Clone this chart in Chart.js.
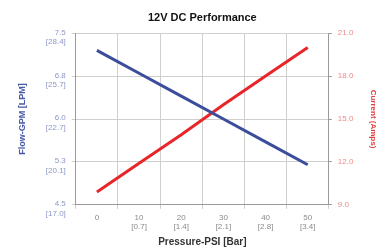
<!DOCTYPE html>
<html>
<head>
<meta charset="utf-8">
<script src="https://cdn.jsdelivr.net/npm/chart.js@4/dist/chart.umd.min.js"></script>
<style>
  html, body { margin: 0; padding: 0; background: #fff; }
  #wrap { width: 379px; height: 248px; }
</style>
</head>
<body>
<div id="wrap"><canvas id="perfChart"></canvas></div>
<script>
// pressure categories (PSI with bar below)
const pressureLabels = [["0"], ["10", "[0.7]"], ["20", "[1.4]"], ["30", "[2.1]"], ["40", "[2.8]"], ["50", "[3.4]"]];

// readings
const flowGPM = [7.2, 6.8, 6.4, 6.0, 5.6, 5.2];
const currentAmps = [9.9, 11.9, 13.9, 16.0, 18.0, 20.0];

// left axis tick text
const flowTicks = [4.5, 5.25, 6.0, 6.75, 7.5];
const flowTickText = [["4.5", "[17.0]"], ["5.3", "[20.1]"], ["6.0", "[22.7]"], ["6.8", "[25.7]"], ["7.5", "[28.4]"]];

const ctx = document.getElementById("perfChart").getContext("2d");

new Chart(ctx, {
    type: "line",
    data: {
        labels: pressureLabels,
        datasets: [
            {
                label: "Flow",
                data: flowGPM,
                yAxisID: "y",
                borderColor: "#3b4d9b",
                borderWidth: 3,
                pointRadius: 0,
                tension: 0
            },
            {
                label: "Current",
                data: currentAmps,
                yAxisID: "y1",
                borderColor: "#e8262a",
                borderWidth: 3,
                pointRadius: 0,
                tension: 0
            }
        ]
    },
    options: {
        responsive: true,
        maintainAspectRatio: false,
        animation: false,
        layout: { padding: { left: 17, right: 0, top: 0, bottom: 0 } },
        plugins: {
            legend: { display: false },
            tooltip: { enabled: false },
            title: {
                display: true,
                text: "12V DC Performance",
                fullSize: false,
                color: "#111",
                font: { family: "Liberation Sans", size: 11, weight: "bold" },
                padding: { top: 11, bottom: 9 }
            }
        },
        scales: {
            x: {
                offset: true,
                grid: { offset: true, color: "#cfcfcf", tickLength: 4 },
                border: { color: "#9a9a9a" },
                ticks: {
                    color: "#8a8a8a",
                    font: { family: "Liberation Sans", size: 8 },
                    maxRotation: 0,
                    padding: 4
                },
                title: {
                    display: true,
                    text: "Pressure-PSI [Bar]",
                    color: "#333",
                    font: { family: "Liberation Sans", size: 10, weight: "bold" },
                    padding: { top: 0, bottom: 0 }
                }
            },
            y: {
                position: "left",
                min: 4.5,
                max: 7.5,
                afterBuildTicks: axis => { axis.ticks = flowTicks.map(v => ({ value: v })); },
                grid: { color: "#cfcfcf", tickLength: 4 },
                border: { color: "#9a9a9a" },
                ticks: {
                    color: "#8e98c8",
                    font: { family: "Liberation Sans", size: 8 },
                    padding: 6,
                    labelOffset: 4,
                    callback: (v, i) => flowTickText[i]
                },
                title: {
                    display: true,
                    text: "Flow-GPM [LPM]",
                    color: "#4a5aa8",
                    font: { family: "Liberation Sans", size: 9, weight: "bold" },
                    padding: { top: 0, bottom: 12 }
                }
            },
            y1: {
                position: "right",
                min: 9,
                max: 21,
                ticks: {
                    stepSize: 3,
                    color: "#ee8a8a",
                    font: { family: "Liberation Sans", size: 8 },
                    padding: 6,
                    callback: v => v.toFixed(1)
                },
                grid: { drawOnChartArea: false, color: "#9a9a9a", tickLength: 3 },
                border: { color: "#9a9a9a" },
                title: {
                    display: true,
                    text: "Current (Amps)",
                    color: "#e0403f",
                    font: { family: "Liberation Sans", size: 8, weight: "bold" },
                    padding: { top: 1, bottom: 9 }
                }
            }
        }
    }
});
</script>
</body>
</html>
